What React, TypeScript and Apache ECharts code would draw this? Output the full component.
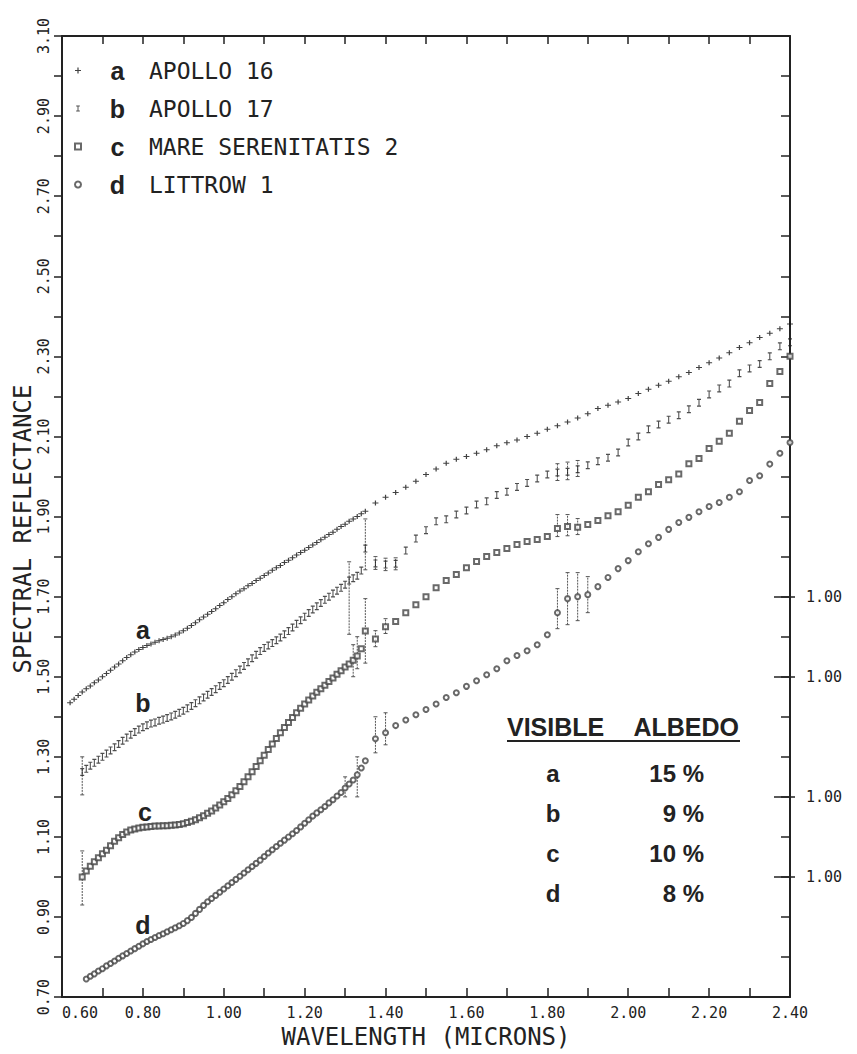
import React, { useEffect, useRef } from 'react';
import * as echarts from 'echarts';

const WAVELENGTH = [
  0.62, 0.63, 0.64, 0.65, 0.66, 0.67, 0.68, 0.69, 0.70, 0.71,
  0.72, 0.73, 0.74, 0.75, 0.76, 0.77, 0.78, 0.79, 0.80, 0.81,
  0.82, 0.83, 0.84, 0.85, 0.86, 0.87, 0.88, 0.89, 0.90, 0.91,
  0.92, 0.93, 0.94, 0.95, 0.96, 0.97, 0.98, 0.99, 1.00, 1.01,
  1.02, 1.03, 1.04, 1.05, 1.06, 1.07, 1.08, 1.09, 1.10, 1.11,
  1.12, 1.13, 1.14, 1.15, 1.16, 1.17, 1.18, 1.19, 1.20, 1.21,
  1.22, 1.23, 1.24, 1.25, 1.26, 1.27, 1.28, 1.29, 1.30, 1.31,
  1.32, 1.33, 1.34, 1.35, 1.375, 1.40, 1.425, 1.45, 1.475, 1.50,
  1.525, 1.55, 1.575, 1.60, 1.625, 1.65, 1.675, 1.70, 1.725, 1.75,
  1.775, 1.80, 1.825, 1.85, 1.875, 1.90, 1.925, 1.95, 1.975, 2.00,
  2.025, 2.05, 2.075, 2.10, 2.125, 2.15, 2.175, 2.20, 2.225, 2.25,
  2.275, 2.30, 2.325, 2.35, 2.375, 2.40,
];

const APOLLO_16 = [
  1.435, 1.444, 1.453, 1.462, 1.470, 1.477, 1.485, 1.492, 1.500, 1.508,
  1.516, 1.524, 1.532, 1.540, 1.548, 1.555, 1.562, 1.568, 1.573, 1.578,
  1.582, 1.586, 1.590, 1.593, 1.596, 1.600, 1.604, 1.609, 1.615, 1.621,
  1.628, 1.635, 1.642, 1.649, 1.656, 1.663, 1.670, 1.678, 1.685, 1.693,
  1.700, 1.707, 1.714, 1.720, 1.727, 1.733, 1.740, 1.746, 1.753, 1.759,
  1.766, 1.772, 1.778, 1.785, 1.791, 1.797, 1.804, 1.810, 1.816, 1.823,
  1.829, 1.835, 1.842, 1.848, 1.855, 1.861, 1.868, 1.875, 1.881, 1.888,
  1.894, 1.900, 1.907, 1.913, 1.934, 1.948, 1.960, 1.973, 1.988, 2.005,
  2.019, 2.033, 2.043, 2.050, 2.058, 2.067, 2.077, 2.084, 2.091, 2.100,
  2.108, 2.118, 2.127, 2.136, 2.146, 2.157, 2.170, 2.178, 2.186, 2.195,
  2.207, 2.218, 2.228, 2.238, 2.249, 2.260, 2.272, 2.284, 2.296, 2.309,
  2.322, 2.334, 2.347, 2.358, 2.369, 2.381,
];

const APOLLO_17 = [
  null, null, null, 1.262, 1.270, 1.278, 1.285, 1.293, 1.300, 1.308,
  1.316, 1.324, 1.332, 1.340, 1.348, 1.355, 1.362, 1.368, 1.374, 1.379,
  1.383, 1.386, 1.390, 1.393, 1.397, 1.401, 1.405, 1.410, 1.415, 1.421,
  1.427, 1.434, 1.441, 1.448, 1.455, 1.462, 1.469, 1.477, 1.484, 1.492,
  1.500, 1.509, 1.518, 1.527, 1.536, 1.546, 1.555, 1.564, 1.572, 1.578,
  1.584, 1.591, 1.598, 1.606, 1.614, 1.623, 1.632, 1.641, 1.650, 1.659,
  1.668, 1.676, 1.684, 1.692, 1.700, 1.708, 1.715, 1.722, 1.730, 1.740,
  1.746, 1.752, 1.765, 1.820, 1.783, 1.780, 1.782, 1.815, 1.845, 1.866,
  1.888, 1.893, 1.905, 1.915, 1.930, 1.938, 1.954, 1.962, 1.974, 1.984,
  1.995, 2.005, 2.010, 2.012, 2.018, 2.028, 2.038, 2.047, 2.060, 2.085,
  2.100, 2.118, 2.130, 2.142, 2.153, 2.168, 2.184, 2.205, 2.220, 2.232,
  2.258, 2.270, 2.281, 2.300, 2.325, 2.335,
];

const MARE_SERENITATIS_2 = [
  null, null, null, 1.000, 1.015, 1.027, 1.038, 1.048, 1.058, 1.067,
  1.078, 1.089, 1.098, 1.106, 1.112, 1.117, 1.120, 1.122, 1.124, 1.125,
  1.126, 1.127, 1.127, 1.128, 1.128, 1.129, 1.130, 1.131, 1.133, 1.136,
  1.139, 1.143, 1.148, 1.153, 1.159, 1.165, 1.172, 1.180, 1.188, 1.196,
  1.205, 1.215, 1.226, 1.238, 1.250, 1.263, 1.276, 1.290, 1.304, 1.318,
  1.332, 1.346, 1.360, 1.373, 1.386, 1.398, 1.410, 1.421, 1.432, 1.442,
  1.452, 1.461, 1.470, 1.479, 1.488, 1.497, 1.506, 1.515, 1.524, 1.532,
  1.541, 1.552, 1.570, 1.614, 1.594, 1.625, 1.638, 1.660, 1.680, 1.700,
  1.722, 1.740, 1.755, 1.772, 1.788, 1.800, 1.810, 1.820, 1.830, 1.838,
  1.843, 1.850, 1.870, 1.875, 1.873, 1.880, 1.890, 1.902, 1.912, 1.928,
  1.948, 1.962, 1.980, 1.992, 2.006, 2.032, 2.045, 2.070, 2.088, 2.108,
  2.138, 2.165, 2.185, 2.232, 2.262, 2.300,
];

const LITTROW_1 = [
  null, null, null, null, 0.745, 0.752, 0.758, 0.765, 0.771, 0.778,
  0.784, 0.790, 0.797, 0.803, 0.809, 0.815, 0.821, 0.827, 0.833, 0.839,
  0.844, 0.849, 0.854, 0.858, 0.863, 0.868, 0.873, 0.878, 0.884, 0.891,
  0.899, 0.909, 0.919, 0.929, 0.938, 0.946, 0.954, 0.962, 0.970, 0.978,
  0.986, 0.994, 1.002, 1.010, 1.018, 1.026, 1.034, 1.042, 1.051, 1.060,
  1.068, 1.076, 1.084, 1.092, 1.100, 1.108, 1.116, 1.125, 1.134, 1.143,
  1.152, 1.160, 1.168, 1.176, 1.185, 1.193, 1.202, 1.211, 1.222, 1.232,
  1.242, 1.255, 1.272, 1.290, 1.345, 1.360, 1.378, 1.392, 1.405, 1.418,
  1.432, 1.448, 1.460, 1.476, 1.490, 1.505, 1.520, 1.540, 1.553, 1.565,
  1.580, 1.605, 1.660, 1.695, 1.700, 1.705, 1.725, 1.748, 1.770, 1.790,
  1.812, 1.832, 1.848, 1.868, 1.885, 1.898, 1.912, 1.925, 1.935, 1.948,
  1.962, 1.990, 2.002, 2.031, 2.058, 2.085,
];

// [wavelength, low, high]
const ERRORS_APOLLO_17 = [
  [0.65, 1.205, 1.300], [1.31, 1.606, 1.787], [1.35, 1.767, 1.894],
  [1.375, 1.768, 1.800], [1.40, 1.765, 1.796], [1.425, 1.767, 1.797],
  [1.825, 1.990, 2.032], [1.85, 1.992, 2.036], [1.875, 2.000, 2.040],
];
const ERRORS_MARE_SERENITATIS_2 = [
  [0.65, 0.930, 1.065], [1.32, 1.500, 1.580], [1.33, 1.520, 1.600],
  [1.35, 1.534, 1.695], [1.375, 1.575, 1.615], [1.40, 1.608, 1.645],
  [1.825, 1.850, 1.905], [1.85, 1.852, 1.905], [1.875, 1.855, 1.895],
];
const ERRORS_LITTROW_1 = [
  [1.30, 1.200, 1.250], [1.33, 1.200, 1.300], [1.375, 1.310, 1.400],
  [1.40, 1.330, 1.410], [1.825, 1.620, 1.720], [1.85, 1.630, 1.760],
  [1.875, 1.640, 1.760], [1.90, 1.660, 1.750],
];

const SERIES_NAMES = ['APOLLO 16', 'APOLLO 17', 'MARE SERENITATIS 2', 'LITTROW 1'];
const SERIES_LETTERS = ['a', 'b', 'c', 'd'];
const RIGHT_MARKS = [1.0, 1.2, 1.5, 1.7];
const ALBEDO_VALUES = [15, 9, 10, 8];

const MONO = 'DejaVu Sans Mono';
const SANS = 'Liberation Sans';
const INK = '#222';

export default function App() {
  const ref = useRef<HTMLDivElement>(null);

  useEffect(() => {
    if (!ref.current) return;
    const chart = echarts.init(ref.current, undefined, { renderer: 'svg' });

    const pairs = (vals: (number | null)[]) =>
      WAVELENGTH.map((w, i) => [w, vals[i]]).filter((p) => p[1] !== null);

    const errorSeries = (data: number[][]) => ({
      type: 'custom',
      xAxisIndex: 0,
      yAxisIndex: 0,
      silent: true,
      z: 1,
      encode: { x: 0, y: [1, 2] },
      data,
      renderItem: (_p: any, api: any) => {
        const x = api.value(0);
        const p1 = api.coord([x, api.value(1)]);
        const p2 = api.coord([x, api.value(2)]);
        const st = { stroke: '#555', lineWidth: 1 };
        return {
          type: 'group',
          children: [
            { type: 'line', shape: { x1: p1[0], y1: p1[1], x2: p2[0], y2: p2[1] }, style: { ...st, lineDash: [2, 1] } },
            { type: 'line', shape: { x1: p1[0] - 2, y1: p1[1], x2: p1[0] + 2, y2: p1[1] }, style: st },
            { type: 'line', shape: { x1: p2[0] - 2, y1: p2[1], x2: p2[0] + 2, y2: p2[1] }, style: st },
          ],
        };
      },
    });

    const plus = 'path://M0,4H10V6H0Z M4,0H6V10H4Z';
    const ibar = 'path://M0,0H6V1.5H3.8V8.5H6V10H0V8.5H2.2V1.5H0Z';

    const tableRowY = [773, 813, 853, 893];
    const bold = (text: string, x: number, y: number, align: string, size = 25) => ({
      type: 'text', x, y, silent: true,
      style: { text, fontFamily: SANS, fontWeight: 'bold', fontSize: size, fill: INK, align, verticalAlign: 'middle' },
    });
    const graphics: any[] = [
      bold('a', 143, 630, 'center'),
      bold('b', 143, 703, 'center'),
      bold('c', 145, 812, 'center'),
      bold('d', 143, 925, 'center'),
      bold('VISIBLE', 507, 727, 'left'),
      bold('ALBEDO', 739, 727, 'right'),
      { type: 'rect', silent: true, shape: { x: 507, y: 740, width: 233, height: 2 }, style: { fill: INK } },
      {
        type: 'text', x: 23, y: 529, rotation: Math.PI / 2, silent: true,
        style: { text: 'SPECTRAL REFLECTANCE', fontFamily: MONO, fontSize: 24, fill: INK, align: 'center', verticalAlign: 'middle' },
      },
    ];
    SERIES_LETTERS.forEach((l, i) => {
      graphics.push(bold(l, 553, tableRowY[i], 'center', 24));
      graphics.push(bold(`${ALBEDO_VALUES[i]} %`, 704, tableRowY[i], 'right', 24));
    });

    const axisLine = { show: true, lineStyle: { color: INK, width: 2 } };

    chart.setOption({
      animation: false,
      backgroundColor: '#fff',
      grid: { left: 62, right: 67, top: 36, bottom: 52 },
      legend: {
        data: SERIES_NAMES,
        orient: 'vertical',
        left: 69,
        top: 53,
        itemWidth: 6,
        itemHeight: 6,
        itemGap: 13,
        selectedMode: false,
        formatter: (name: string) => `{k|${SERIES_LETTERS[SERIES_NAMES.indexOf(name)]}}{t|${name}}`,
        textStyle: {
          rich: {
            k: { fontFamily: SANS, fontWeight: 'bold', fontSize: 25, width: 63, align: 'center', color: INK, lineHeight: 28 },
            t: { fontFamily: MONO, fontSize: 23, color: INK, lineHeight: 28 },
          },
        },
      },
      xAxis: [
        {
          type: 'value', min: 0.6, max: 2.4, interval: 0.1, position: 'bottom',
          axisLine, splitLine: { show: false },
          axisTick: { show: true, inside: true, length: 9, lineStyle: { color: INK, width: 1.5 } },
          axisLabel: {
            margin: 8, fontFamily: MONO, fontSize: 15, color: INK, alignMinLabel: 'left',
            formatter: (v: number) => (Math.round(v * 10) % 2 === 0 ? v.toFixed(2) : ''),
          },
          name: 'WAVELENGTH (MICRONS)', nameLocation: 'middle', nameGap: 26,
          nameTextStyle: { fontFamily: MONO, fontSize: 24, color: INK },
        },
        {
          type: 'value', min: 0.6, max: 2.4, interval: 0.1, position: 'top',
          axisLine, splitLine: { show: false },
          axisTick: { show: true, inside: true, length: 8, lineStyle: { color: INK, width: 1.5 } },
          axisLabel: { show: false },
        },
      ],
      yAxis: [
        {
          type: 'value', min: 0.7, max: 3.1, interval: 0.1, position: 'left',
          axisLine, splitLine: { show: false },
          axisTick: { show: true, inside: false, length: 8, lineStyle: { color: INK, width: 1.5 } },
          axisLabel: {
            rotate: 90, margin: 11, fontFamily: MONO, fontSize: 15, color: INK,
            formatter: (v: number) => ((Math.round(v * 10) - 7) % 2 === 0 ? v.toFixed(2) : ''),
          },
        },
        {
          type: 'value', min: 0.7, max: 3.1, interval: 0.1, position: 'right',
          axisLine, splitLine: { show: false },
          axisTick: { show: true, inside: true, length: 9, lineStyle: { color: INK, width: 1.5 } },
          axisLabel: { show: false },
        },
        {
          type: 'value', min: 0.7, max: 3.1, position: 'right',
          axisLine: { show: false }, splitLine: { show: false },
          axisTick: { show: true, inside: true, length: 16, customValues: RIGHT_MARKS, lineStyle: { color: INK, width: 1.5 } },
          axisLabel: { show: false },
        },
        {
          type: 'value', min: 0.7, max: 3.1, position: 'right',
          axisLine: { show: false }, splitLine: { show: false },
          axisTick: { show: true, inside: false, length: 5, customValues: RIGHT_MARKS, lineStyle: { color: INK, width: 1.5 } },
          axisLabel: {
            show: true, customValues: RIGHT_MARKS, margin: 16, fontFamily: MONO, fontSize: 15, color: INK,
            formatter: () => '1.00',
          },
        },
      ],
      graphic: graphics,
      series: [
        errorSeries(ERRORS_APOLLO_17),
        errorSeries(ERRORS_MARE_SERENITATIS_2),
        errorSeries(ERRORS_LITTROW_1),
        {
          name: SERIES_NAMES[0], type: 'scatter', data: pairs(APOLLO_16), symbol: plus, symbolSize: [6, 5],
          itemStyle: { color: '#111' }, z: 3,
        },
        {
          name: SERIES_NAMES[1], type: 'scatter', data: pairs(APOLLO_17), symbol: ibar, symbolSize: [4, 8],
          itemStyle: { color: '#222' }, z: 3,
        },
        {
          name: SERIES_NAMES[2], type: 'scatter', data: pairs(MARE_SERENITATIS_2), symbol: 'emptyRect', symbolSize: 5,
          itemStyle: { color: '#444', borderWidth: 1 }, z: 3,
        },
        {
          name: SERIES_NAMES[3], type: 'scatter', data: pairs(LITTROW_1), symbol: 'emptyCircle', symbolSize: 5,
          itemStyle: { color: '#444', borderWidth: 1 }, z: 3,
        },
      ],
    });

    return () => chart.dispose();
  }, []);

  return (
    <div
      ref={ref}
      style={{ position: 'absolute', left: 0, top: 0, width: 857, height: 1054, background: '#fff' }}
    />
  );
}
